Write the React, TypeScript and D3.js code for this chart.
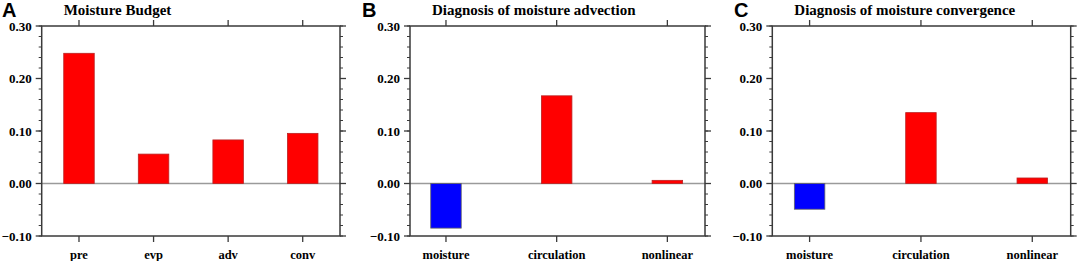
import React from "react";
import * as d3 from "d3";

const budgetCats = ["pre", "evp", "adv", "conv"];
const budgetVals = [0.248, 0.056, 0.083, 0.0955];
const advCats = ["moisture", "circulation", "nonlinear"];
const advVals = [-0.085, 0.167, 0.006];
const convCats = ["moisture", "circulation", "nonlinear"];
const convVals = [-0.049, 0.135, 0.0105];
const yTicks = [-0.1, 0.0, 0.1, 0.2, 0.3];
const yMinor = d3.range(-0.1, 0.3001, 0.02);

const panels = [
  { letter: "A", title: "Moisture Budget", cats: budgetCats, vals: budgetVals, x0: 41.7, x1: 340, dom: [0.5, 4.5], letterX: 2 },
  { letter: "B", title: "Diagnosis of moisture advection", cats: advCats, vals: advVals, x0: 410, x1: 705, dom: [0.675, 3.34], letterX: 362 },
  { letter: "C", title: "Diagnosis of moisture convergence", cats: convCats, vals: convVals, x0: 772.3, x1: 1070.7, dom: [0.665, 3.345], letterX: 734 },
];

const TOP = 26;
const BOTTOM = 236;
const BAR_W = 30.5;
const FRAME = "#3a3a3a";
const SERIF = "'Liberation Serif', 'Times New Roman', serif";

function Panel({ p }: { p: any }) {
  const x = d3.scaleLinear().domain(p.dom).range([p.x0, p.x1]);
  const y = d3.scaleLinear().domain([-0.1, 0.3]).range([BOTTOM, TOP]);
  const idx = p.cats.map((_: string, i: number) => i + 1);
  return (
    <g>
      <text x={p.letterX} y={17} fontFamily="'Liberation Sans', Arial, sans-serif" fontWeight="bold" fontSize={20} fill="#000">
        {p.letter}
      </text>
      <text x={p.x0 + 22} y={15} fontFamily={SERIF} fontWeight="bold" fontSize={15} fill="#000">
        {p.title}
      </text>
      <line x1={p.x0} x2={p.x1} y1={y(0)} y2={y(0)} stroke="#9a9a9a" strokeWidth={1.5} />
      {p.vals.map((v: number, i: number) => (
        <rect
          key={i}
          x={x(idx[i]) - BAR_W / 2}
          width={BAR_W}
          y={Math.min(y(v), y(0))}
          height={Math.abs(y(v) - y(0))}
          fill={v < 0 ? "#0000ff" : "#ff0000"}
          stroke={v < 0 ? "#666" : "#b22"}
          strokeWidth={0.8}
        />
      ))}
      {yMinor.map((t, i) => (
        <g key={"m" + i}>
          <line x1={p.x0 - 3} x2={p.x0} y1={y(t)} y2={y(t)} stroke={FRAME} strokeWidth={1} />
          <line x1={p.x1} x2={p.x1 + 3} y1={y(t)} y2={y(t)} stroke={FRAME} strokeWidth={1} />
        </g>
      ))}
      {yTicks.map((t, i) => (
        <g key={"M" + i}>
          <line x1={p.x0 - 6} x2={p.x0} y1={y(t)} y2={y(t)} stroke={FRAME} strokeWidth={1.3} />
          <line x1={p.x1} x2={p.x1 + 6} y1={y(t)} y2={y(t)} stroke={FRAME} strokeWidth={1.3} />
          <text x={p.x0 - 10} y={y(t)} dy="0.35em" textAnchor="end" fontFamily={SERIF} fontWeight="bold" fontSize={13} fill="#000">
            {d3.format(".2f")(t)}
          </text>
        </g>
      ))}
      {idx.map((c: number, i: number) => (
        <g key={"x" + i}>
          <line x1={x(c)} x2={x(c)} y1={TOP - 6} y2={TOP} stroke={FRAME} strokeWidth={1.3} />
          <line x1={x(c)} x2={x(c)} y1={BOTTOM} y2={BOTTOM + 6} stroke={FRAME} strokeWidth={1.3} />
          <text x={x(c)} y={258.5} textAnchor="middle" fontFamily={SERIF} fontWeight="bold" fontSize={12.5} fill="#000">
            {p.cats[i]}
          </text>
        </g>
      ))}
      <rect x={p.x0} y={TOP} width={p.x1 - p.x0} height={BOTTOM - TOP} fill="none" stroke={FRAME} strokeWidth={1.5} />
    </g>
  );
}

export default function App() {
  return (
    <svg width={1079} height={261} style={{ position: "absolute", left: 0, top: 0, background: "#fff" }}>
      <rect x={0} y={0} width={1079} height={261} fill="#fff" />
      {panels.map((p) => (
        <Panel key={p.letter} p={p} />
      ))}
    </svg>
  );
}
